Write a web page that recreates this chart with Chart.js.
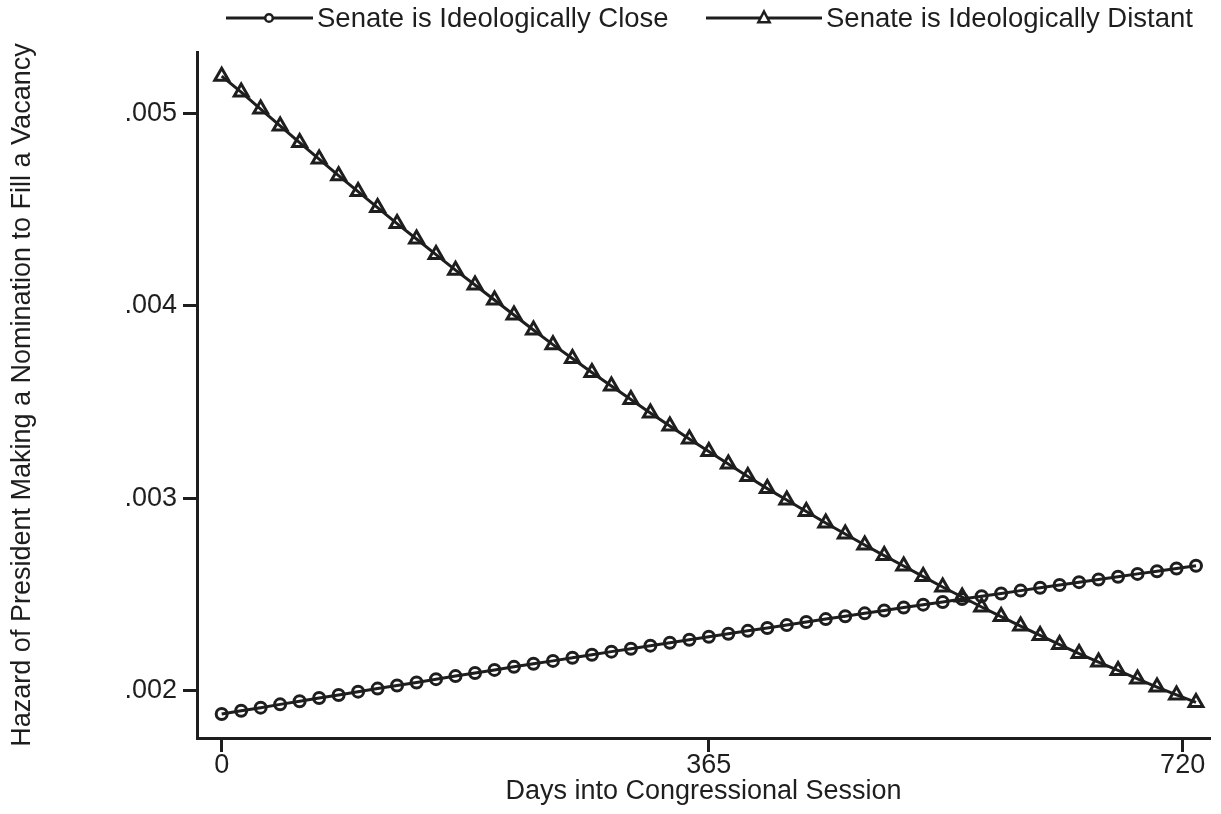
<!DOCTYPE html>
<html><head><meta charset="utf-8">
<script src="https://cdn.jsdelivr.net/npm/chart.js@4.4.1/dist/chart.umd.min.js"></script>
<style>html,body{margin:0;padding:0;background:#fff;} canvas{display:block;}</style>
</head><body>
<canvas id="c" width="1221" height="814"></canvas>
<script>
const days = [0,14.6,29.2,43.8,58.4,73,87.6,102.2,116.8,131.4,146,160.6,175.2,189.8,204.4,219,233.6,248.2,262.8,277.4,292,306.6,321.2,335.8,350.4,365,379.6,394.2,408.8,423.4,438,452.6,467.2,481.8,496.4,511,525.6,540.2,554.8,569.4,584,598.6,613.2,627.8,642.4,657,671.6,686.2,700.8,715.4,730];
const closeHazard = [0.001879,0.001896,0.001912,0.001929,0.001945,0.001962,0.001978,0.001995,0.002011,0.002027,0.002043,0.002060,0.002076,0.002092,0.002108,0.002124,0.002140,0.002155,0.002171,0.002187,0.002203,0.002218,0.002234,0.002249,0.002265,0.002280,0.002296,0.002311,0.002326,0.002341,0.002357,0.002372,0.002387,0.002402,0.002417,0.002432,0.002447,0.002461,0.002476,0.002491,0.002505,0.002520,0.002535,0.002549,0.002564,0.002578,0.002592,0.002607,0.002621,0.002635,0.002649];
const distantHazard = [0.005193,0.005110,0.005022,0.004934,0.004848,0.004762,0.004676,0.004593,0.004510,0.004427,0.004347,0.004266,0.004185,0.004108,0.004030,0.003952,0.003874,0.003798,0.003726,0.003653,0.003583,0.003513,0.003443,0.003375,0.003308,0.003243,0.003178,0.003113,0.003050,0.002991,0.002931,0.002871,0.002814,0.002757,0.002702,0.002648,0.002593,0.002539,0.002487,0.002435,0.002385,0.002336,0.002287,0.002240,0.002193,0.002149,0.002105,0.002061,0.002019,0.001978,0.001939];
const yTickValues = [0.002,0.003,0.004,0.005];
const xTickValues = [0,365,720];
const seriesNames = ['Senate is Ideologically Close','Senate is Ideologically Distant'];
const xTitle = 'Days into Congressional Session';
const yTitle = 'Hazard of President Making a Nomination to Fill a Vacancy';

const INK = '#1e1e1e';
const FONT = "'Liberation Sans', Arial, Helvetica, sans-serif";

const legendPlugin = {
  id: 'customLegend',
  afterDraw(chart) {
    const ctx = chart.ctx;
    const y = 18;
    const items = [
      {x1: 226, x2: 313, mx: 269, style: 'circle', label: seriesNames[0], tx: 317},
      {x1: 706, x2: 822, mx: 764, style: 'triangle', label: seriesNames[1], tx: 826}
    ];
    ctx.save();
    ctx.strokeStyle = INK; ctx.fillStyle = INK;
    items.forEach(it => {
      ctx.lineWidth = 3;
      ctx.beginPath(); ctx.moveTo(it.x1, y); ctx.lineTo(it.x2, y); ctx.stroke();
      ctx.lineWidth = 2.5;
      ctx.beginPath();
      if (it.style === 'circle') {
        ctx.arc(it.mx, y, 3.8, 0, Math.PI * 2);
        ctx.fillStyle = '#fff'; ctx.fill(); ctx.stroke();
      } else {
        const r = 6.5;
        ctx.moveTo(it.mx, y - r);
        ctx.lineTo(it.mx + r * 0.866, y + r * 0.5 + 1);
        ctx.lineTo(it.mx - r * 0.866, y + r * 0.5 + 1);
        ctx.closePath();
        ctx.fillStyle = '#fff'; ctx.fill(); ctx.stroke();
      }
      ctx.fillStyle = INK;
      ctx.font = '27.5px ' + FONT;
      ctx.textAlign = 'left'; ctx.textBaseline = 'middle';
      ctx.fillText(it.label, it.tx, y + 1);
    });
    ctx.restore();
  }
};

const mk = arr => days.map((d, i) => ({x: d, y: arr[i]}));

new Chart(document.getElementById('c'), {
  type: 'line',
  data: {
    datasets: [
      {label: seriesNames[0], data: mk(closeHazard), borderColor: INK, borderWidth: 3,
       pointStyle: 'circle', pointRadius: 5.5, pointBorderWidth: 3, pointBorderColor: INK,
       pointBackgroundColor: 'rgba(0,0,0,0)', backgroundColor: 'rgba(0,0,0,0)', tension: 0, fill: false},
      {label: seriesNames[1], data: mk(distantHazard), borderColor: INK, borderWidth: 3,
       pointStyle: 'triangle', pointRadius: 8, pointBorderWidth: 3, pointBorderColor: INK,
       pointBackgroundColor: 'rgba(0,0,0,0)', backgroundColor: 'rgba(0,0,0,0)', tension: 0, fill: false}
    ]
  },
  options: {
    responsive: false, animation: false, devicePixelRatio: 1,
    layout: {padding: {top: 52, right: 0, left: 0, bottom: 0}},
    plugins: {legend: {display: false}, tooltip: {enabled: false}},
    scales: {
      x: {
        type: 'linear', min: -18.5, max: 740.5,
        afterBuildTicks: s => { s.ticks = xTickValues.map(v => ({value: v})); },
        afterFit: s => { s.height = 76; s.paddingLeft = 0; s.paddingRight = 0; },
        ticks: {callback: v => String(v), font: {family: FONT, size: 27, lineHeight: 1}, color: INK, padding: 0, maxRotation: 0},
        grid: {display: true, drawOnChartArea: false, drawTicks: true, tickLength: 14, tickWidth: 3, tickColor: INK},
        border: {display: true, color: INK, width: 3},
        title: {display: true, text: xTitle, font: {family: FONT, size: 27}, color: INK, padding: {top: 0, bottom: 6}}
      },
      y: {
        type: 'linear', min: 0.0017543, max: 0.0053184,
        afterBuildTicks: s => { s.ticks = yTickValues.map(v => ({value: v})); },
        afterFit: s => { s.width = 197; s.paddingTop = 0; s.paddingBottom = 0; },
        ticks: {callback: v => Number(v).toFixed(3).replace(/^0/, ''), font: {family: FONT, size: 27}, color: INK, padding: 6},
        grid: {display: true, drawOnChartArea: false, drawTicks: true, tickLength: 14, tickWidth: 3, tickColor: INK},
        border: {display: true, color: INK, width: 3},
        title: {display: true, text: yTitle, font: {family: FONT, size: 27}, color: INK, padding: {top: 6, bottom: 0}}
      }
    }
  },
  plugins: [legendPlugin]
});
</script>
</body></html>
